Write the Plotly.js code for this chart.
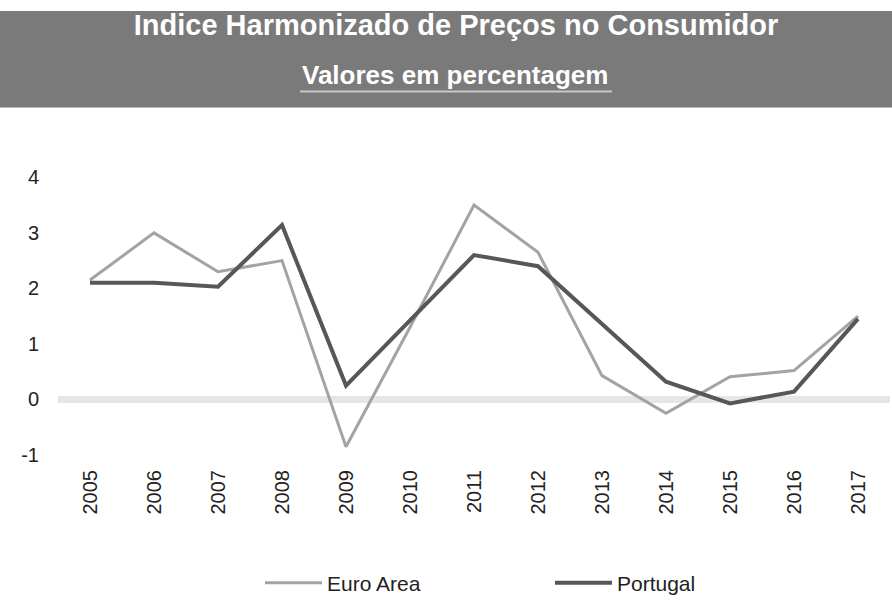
<!DOCTYPE html>
<html>
<head>
<meta charset="utf-8">
<script src="https://cdn.plot.ly/plotly-3.0.1.min.js"></script>
<style>html,body{margin:0;padding:0;background:#fff;}#chart{width:892px;height:605px;}</style>
</head>
<body>
<div id="chart"></div>
<script>
const years = ['2005','2006','2007','2008','2009','2010','2011','2012','2013','2014','2015','2016','2017'];
const euroArea = [2.15, 3.0, 2.3, 2.5, -0.85, 1.3, 3.5, 2.65, 0.43, -0.25, 0.41, 0.52, 1.5];
const portugal = [2.1, 2.1, 2.03, 3.14, 0.25, 1.43, 2.6, 2.4, 1.36, 0.32, -0.07, 0.14, 1.45];
const yTicks = [-1, 0, 1, 2, 3, 4];
const titleText = 'Indice Harmonizado de Preços no Consumidor';
const subtitleText = 'Valores em percentagem';

const L = 58, T = 169, W = 832, H = 288;
const px2x = p => (p - L) / W;
const px2y = p => (T + H - p) / H;

const traces = [
  {x: years, y: euroArea, name: 'Euro Area', type: 'scatter', mode: 'lines',
   line: {color: '#a3a3a3', width: 3}},
  {x: years, y: portugal, name: 'Portugal', type: 'scatter', mode: 'lines',
   line: {color: '#575757', width: 4}}
];

const layout = {
  width: 892, height: 605,
  margin: {l: L, r: 892 - L - W, t: T, b: 605 - T - H},
  paper_bgcolor: '#ffffff', plot_bgcolor: '#ffffff',
  font: {family: 'Liberation Sans, Arial, sans-serif', color: '#222222', size: 20},
  title: {text: '<b>' + titleText + '</b>', x: 456/892, xanchor: 'center',
          y: 1 - 25/605, yanchor: 'middle', yref: 'container',
          font: {family: 'Liberation Sans, Arial, sans-serif', size: 29, color: '#ffffff'}},
  xaxis: {type: 'category', range: [-0.5, 12.5], tickangle: -90, showgrid: false,
          zeroline: false, showline: false, ticks: '', ticklabelstandoff: 10,
          tickfont: {size: 20}, fixedrange: true},
  yaxis: {range: [-1, 4.15], tickvals: yTicks, ticktext: yTicks.map(String), showgrid: false,
          zeroline: true, zerolinecolor: '#e6e6e6', zerolinewidth: 7, showline: false,
          ticks: '', ticklabelstandoff: 18, tickfont: {size: 20}, fixedrange: true},
  showlegend: true,
  legend: {orientation: 'h', x: px2x(260), xanchor: 'left', y: px2y(586), yanchor: 'middle',
           itemwidth: 57, entrywidth: 218, entrywidthmode: 'pixels',
           font: {size: 21, color: '#222222'}, bgcolor: 'rgba(0,0,0,0)'},
  shapes: [
    {type: 'rect', xref: 'paper', yref: 'paper', x0: px2x(0), x1: px2x(892), y0: px2y(107), y1: px2y(10),
     fillcolor: '#7a7a7a', line: {width: 0}, layer: 'below'},
    {type: 'line', xref: 'paper', yref: 'paper', x0: px2x(300), x1: px2x(612), y0: px2y(91), y1: px2y(91),
     line: {color: '#c8c8c8', width: 2}}
  ],
  annotations: [
    {text: '<b>' + subtitleText + '</b>', xref: 'paper', yref: 'paper', x: px2x(455), y: px2y(74),
     xanchor: 'center', yanchor: 'middle', showarrow: false,
     font: {family: 'Liberation Sans, Arial, sans-serif', size: 26, color: '#ffffff'}}
  ]
};

Plotly.newPlot('chart', traces, layout, {displayModeBar: false, staticPlot: true});
</script>
</body>
</html>
